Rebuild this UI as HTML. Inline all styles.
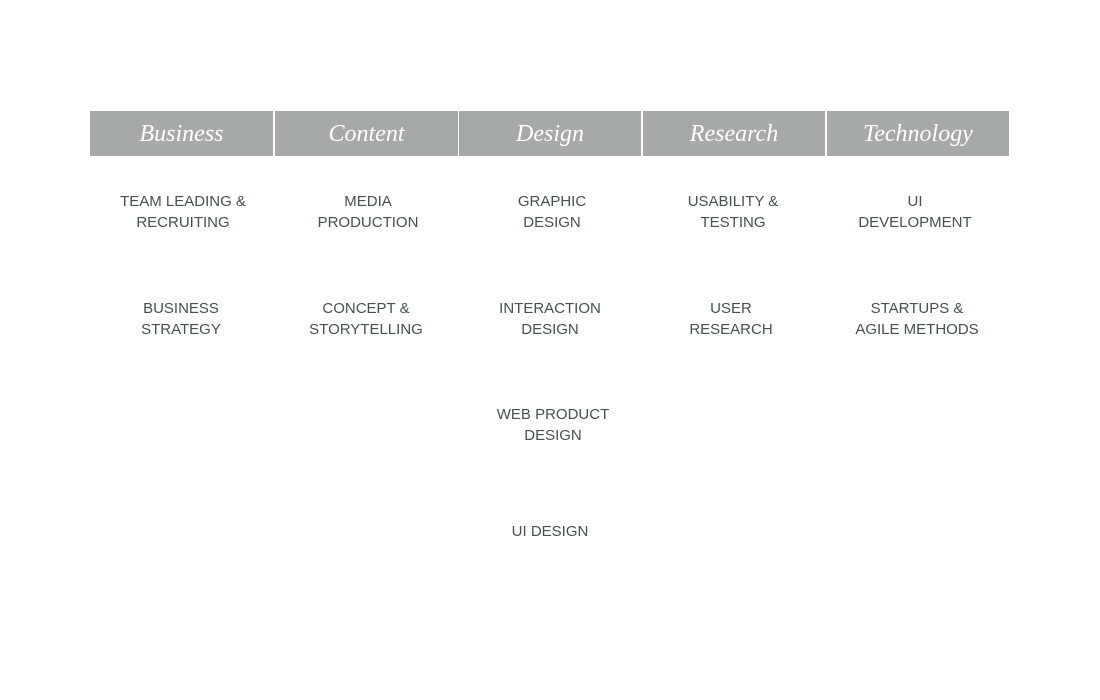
<!DOCTYPE html>
<html><head><style>
body{margin:0;width:1100px;height:700px;background:#fff;position:relative;overflow:hidden;font-family:"Liberation Sans",sans-serif;}
.h{position:absolute;top:111px;height:45px;background:#a5aaa9;color:#fff;font-family:"Liberation Serif",serif;font-style:italic;font-size:24px;line-height:47px;text-align:center;}
.t{position:absolute;width:184px;text-align:center;color:#44514f;font-size:15px;line-height:21px;}
</style></head><body>
<div class="h" style="left:90px;width:183px">Business</div>
<div class="h" style="left:275px;width:183px">Content</div>
<div class="h" style="left:459px;width:182px">Design</div>
<div class="h" style="left:643px;width:182px">Research</div>
<div class="h" style="left:827px;width:182px">Technology</div>

<div class="t" style="left:91px;top:191px">TEAM LEADING &amp;<br>RECRUITING</div>
<div class="t" style="left:276px;top:191px">MEDIA<br>PRODUCTION</div>
<div class="t" style="left:460px;top:191px">GRAPHIC<br>DESIGN</div>
<div class="t" style="left:641px;top:191px">USABILITY &amp;<br>TESTING</div>
<div class="t" style="left:823px;top:191px">UI<br>DEVELOPMENT</div>

<div class="t" style="left:89px;top:298px">BUSINESS<br>STRATEGY</div>
<div class="t" style="left:274px;top:298px">CONCEPT &amp;<br>STORYTELLING</div>
<div class="t" style="left:458px;top:298px">INTERACTION<br>DESIGN</div>
<div class="t" style="left:639px;top:298px">USER<br>RESEARCH</div>
<div class="t" style="left:825px;top:298px">STARTUPS &amp;<br>AGILE METHODS</div>

<div class="t" style="left:461px;top:404px">WEB PRODUCT<br>DESIGN</div>
<div class="t" style="left:458px;top:521px">UI DESIGN</div>
</body></html>
